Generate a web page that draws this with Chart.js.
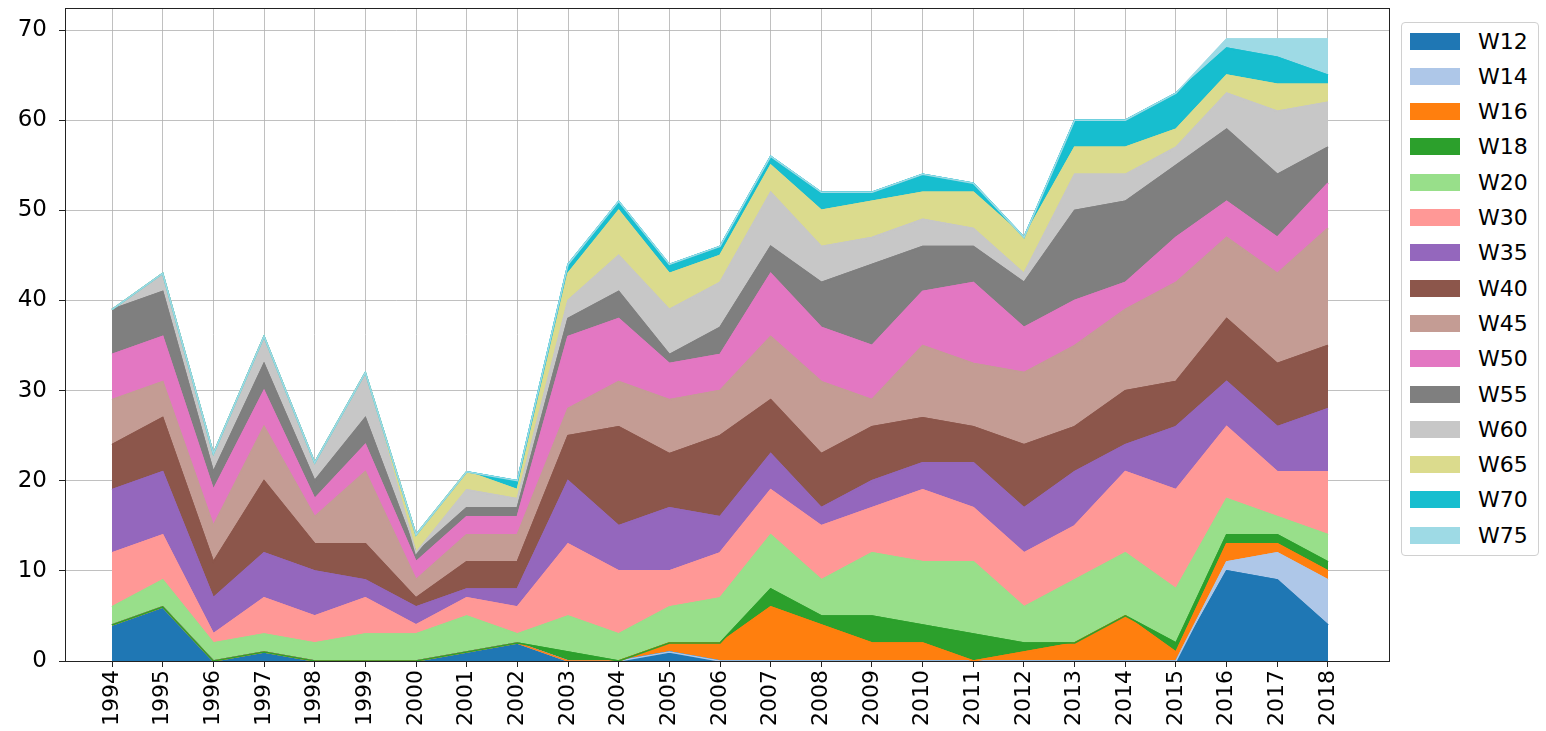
<!DOCTYPE html>
<html>
<head>
<meta charset="utf-8">
<script src="https://cdn.jsdelivr.net/npm/chart.js@4"></script>
<style>
  body { margin: 0; background: #fff; font-family: 'DejaVu Sans', sans-serif; }
  #wrap { position: relative; width: 1546px; height: 731px; }
  #legend {
    position: absolute; left: 1401px; top: 22px; width: 138px; height: 534px;
    border: 1px solid #d0d0d0; border-radius: 4px; background: #fff; box-sizing: border-box;
  }
  .item { position: absolute; left: 8px; height: 24px; display: flex; align-items: center; font-size: 22px; color: #000; }
  .item span.box { display: inline-block; width: 50px; height: 17px; margin-right: 18px; }
</style>
</head>
<body>
<div id="wrap">
  <canvas id="areaChart"></canvas>
  <div id="legend"></div>
</div>
<script>
// years on the x axis
const years = [1994, 1995, 1996, 1997, 1998, 1999, 2000, 2001, 2002, 2003, 2004, 2005, 2006,
  2007, 2008, 2009, 2010, 2011, 2012, 2013, 2014, 2015, 2016, 2017, 2018];
const yTicks = [0, 10, 20, 30, 40, 50, 60, 70];

// one array per series
const w12 = [4, 6, 0, 1, 0, 0, 0, 1, 2, 0, 0, 1, 0, 0, 0, 0, 0, 0, 0, 0, 0, 0, 10, 9, 4];
const w14 = [0, 0, 0, 0, 0, 0, 0, 0, 0, 0, 0, 0, 0, 0, 0, 0, 0, 0, 0, 0, 0, 0, 1, 3, 5];
const w16 = [0, 0, 0, 0, 0, 0, 0, 0, 0, 0, 0, 1, 2, 6, 4, 2, 2, 0, 1, 2, 5, 1, 2, 1, 1];
const w18 = [0, 0, 0, 0, 0, 0, 0, 0, 0, 1, 0, 0, 0, 2, 1, 3, 2, 3, 1, 0, 0, 1, 1, 1, 1];
const w20 = [2, 3, 2, 2, 2, 3, 3, 4, 1, 4, 3, 4, 5, 6, 4, 7, 7, 8, 4, 7, 7, 6, 4, 2, 3];
const w30 = [6, 5, 1, 4, 3, 4, 1, 2, 3, 8, 7, 4, 5, 5, 6, 5, 8, 6, 6, 6, 9, 11, 8, 5, 7];
const w35 = [7, 7, 4, 5, 5, 2, 2, 1, 2, 7, 5, 7, 4, 4, 2, 3, 3, 5, 5, 6, 3, 7, 5, 5, 7];
const w40 = [5, 6, 4, 8, 3, 4, 1, 3, 3, 5, 11, 6, 9, 6, 6, 6, 5, 4, 7, 5, 6, 5, 7, 7, 7];
const w45 = [5, 4, 4, 6, 3, 8, 2, 3, 3, 3, 5, 6, 5, 7, 8, 3, 8, 7, 8, 9, 9, 11, 9, 10, 13];
const w50 = [5, 5, 4, 4, 2, 3, 2, 2, 2, 8, 7, 4, 4, 7, 6, 6, 6, 9, 5, 5, 3, 5, 4, 4, 5];
const w55 = [5, 5, 2, 3, 2, 3, 1, 1, 1, 2, 3, 1, 3, 3, 5, 9, 5, 4, 5, 10, 9, 8, 8, 7, 4];
const w60 = [0, 2, 2, 3, 2, 5, 0, 2, 1, 2, 4, 5, 5, 6, 4, 3, 3, 2, 1, 4, 3, 2, 4, 7, 5];
const w65 = [0, 0, 0, 0, 0, 0, 2, 2, 1, 3, 5, 4, 3, 3, 4, 4, 3, 4, 4, 3, 3, 2, 2, 3, 2];
const w70 = [0, 0, 0, 0, 0, 0, 0, 0, 1, 1, 1, 1, 1, 1, 2, 1, 2, 1, 0, 3, 3, 4, 3, 3, 1];
const w75 = [0, 0, 0, 0, 0, 0, 0, 0, 0, 0, 0, 0, 0, 0, 0, 0, 0, 0, 0, 0, 0, 0, 1, 2, 4];

const seriesNames = ['W12', 'W14', 'W16', 'W18', 'W20', 'W30', 'W35', 'W40', 'W45', 'W50', 'W55', 'W60', 'W65', 'W70', 'W75'];
const seriesValues = [w12, w14, w16, w18, w20, w30, w35, w40, w45, w50, w55, w60, w65, w70, w75];
const colors = ['#1f77b4', '#aec7e8', '#ff7f0e', '#2ca02c', '#98df8a', '#ff9896', '#9467bd', '#8c564b',
  '#c49c94', '#e377c2', '#7f7f7f', '#c7c7c7', '#dbdb8d', '#17becf', '#9edae5'];

Chart.defaults.font.family = "'DejaVu Sans', sans-serif";
Chart.defaults.color = '#000';

const datasets = seriesNames.map((name, i) => ({
  label: name,
  data: years.map((yr, j) => ({ x: yr, y: seriesValues[i][j] })),
  backgroundColor: colors[i],
  borderColor: colors[i],
  borderWidth: 1.5,
  pointRadius: 0,
  tension: 0,
  fill: i === 0 ? 'origin' : '-1'
}));

// restroke the top lines in series order so later series sit on top (like matplotlib)
const lineOrder = {
  id: 'lineOrder',
  afterDatasetsDraw(chart) {
    const ctx = chart.ctx;
    const area = chart.chartArea;
    ctx.save();
    ctx.beginPath();
    ctx.rect(area.left, area.top, area.right - area.left, area.bottom - area.top);
    ctx.clip();
    for (let i = 0; i < chart.data.datasets.length; i++) {
      chart.getDatasetMeta(i).dataset.draw(ctx, area);
    }
    ctx.restore();
  }
};

// axes frame
const frame = {
  id: 'frame',
  afterDraw(chart) {
    const ctx = chart.ctx;
    const a = chart.chartArea;
    ctx.save();
    ctx.strokeStyle = '#222';
    ctx.lineWidth = 1;
    ctx.strokeRect(a.left + 0.5, a.top + 0.5, a.right - a.left - 1, a.bottom - a.top);
    ctx.restore();
  }
};

new Chart(document.getElementById('areaChart'), {
  type: 'line',
  data: { datasets: datasets },
  plugins: [lineOrder, frame],
  options: {
    responsive: true,
    maintainAspectRatio: false,
    animation: false,
    layout: { padding: { top: 8, right: 156, left: 0, bottom: 0 } },
    plugins: {
      legend: { display: false },
      tooltip: { enabled: false }
    },
    scales: {
      x: {
        type: 'linear',
        min: 1993.072,
        max: 2019.224,
        z: 1,
        afterBuildTicks: (axis) => { axis.ticks = years.map(v => ({ value: v })); },
        afterFit: (axis) => { axis.height = 70; axis.paddingLeft = 0; axis.paddingRight = 0; },
        grid: { color: 'rgba(176,176,176,0.8)', lineWidth: 1, tickLength: 6, tickColor: '#222' },
        border: { display: false },
        ticks: {
          autoSkip: false,
          maxRotation: 90,
          minRotation: 90,
          padding: 3,
          font: { size: 22 },
          callback: (v) => String(v)
        }
      },
      y: {
        stacked: true,
        min: 0,
        max: 72.45,
        z: 1,
        afterBuildTicks: (axis) => { axis.ticks = yTicks.map(v => ({ value: v })); },
        afterFit: (axis) => { axis.width = 65; axis.paddingTop = 0; axis.paddingBottom = 0; },
        grid: { color: 'rgba(176,176,176,0.8)', lineWidth: 1, tickLength: 6, tickColor: '#222' },
        border: { display: false },
        ticks: { padding: 12, font: { size: 23 } }
      }
    }
  }
});

// legend to the right of the plot
const legendEl = document.getElementById('legend');
seriesNames.forEach((name, i) => {
  const row = document.createElement('div');
  row.className = 'item';
  row.style.top = (6 + i * 35.3) + 'px';
  row.innerHTML = '<span class="box" style="background:' + colors[i] + '"></span>' + name;
  legendEl.appendChild(row);
});
</script>
</body>
</html>
